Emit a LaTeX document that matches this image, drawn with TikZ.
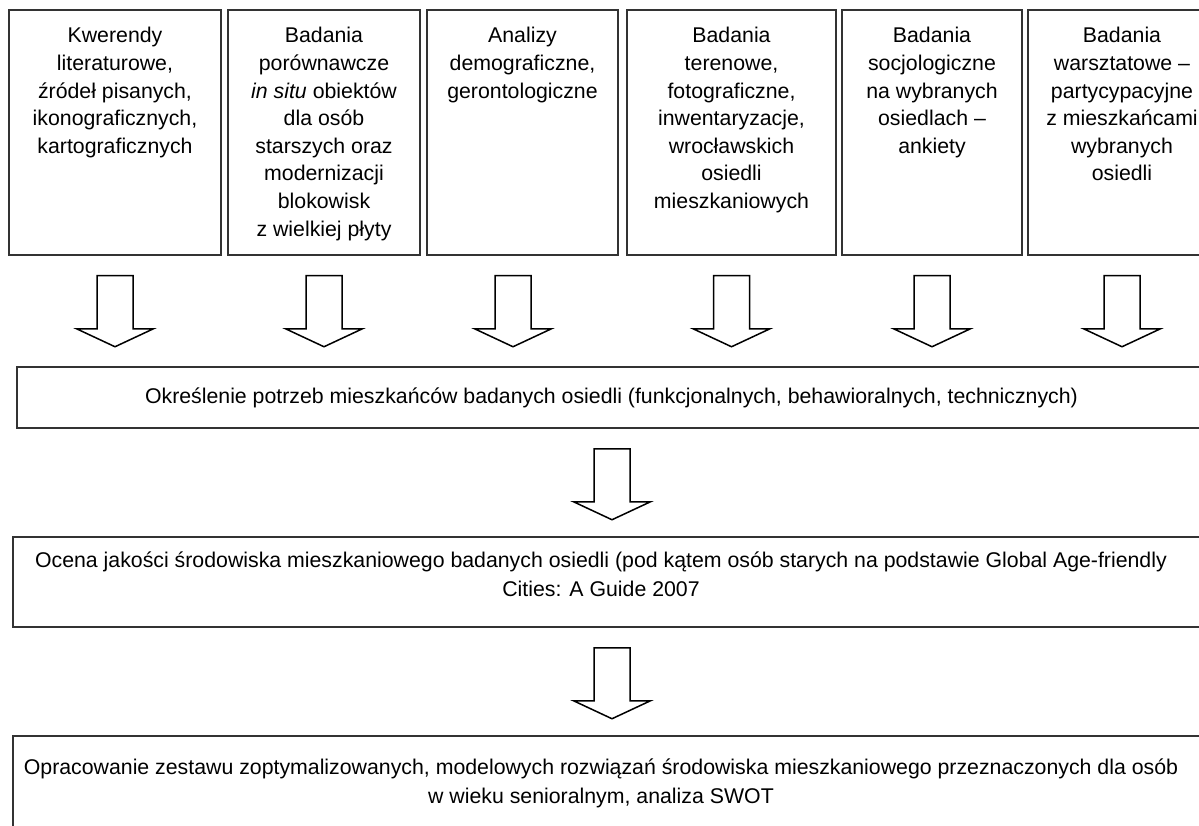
\documentclass[tikz,border=0pt]{standalone}
\usepackage{fontspec}
\setmainfont{Liberation Sans}
\usetikzlibrary{positioning}

\tikzset{
  ramka/.style={draw=black!80, line width=1.5pt, inner sep=0pt},
  opis/.style={align=center, inner sep=0pt, font=\fontsize{21.3}{27.6}\selectfont},
  opisszeroki/.style={align=center, inner sep=0pt, font=\fontsize{21.3}{29}\selectfont},
  strz/.style={draw=black, line width=1.5pt, fill=white, line join=miter}
}
% hollow block arrow hanging 20pt below a point
\newcommand{\strzalka}[1]{%
  \draw[strz] (#1) ++(-18,20) -- ++(0,53) -- ++(-20.5,0) -- ++(38.5,18)
    -- ++(38.5,-18) -- ++(-20.5,0) -- ++(0,-53) -- cycle;}

\begin{document}
\begin{tikzpicture}[x=1pt, y=-1pt]
\useasboundingbox (0,0) rectangle (1199,826);
\clip (0,0) rectangle (1199,826);

% top row of methods
\def\y{132.5}
\node[ramka, minimum width=212pt, minimum height=245pt] (k1) at (115, \y) {};
\node[ramka, minimum width=192pt, minimum height=245pt] (k2) at (324, \y) {};
\node[ramka, minimum width=191pt, minimum height=245pt] (k3) at (522.5, \y) {};
\node[ramka, minimum width=209pt, minimum height=245pt] (k4) at (731.5, \y) {};
\node[ramka, minimum width=180pt, minimum height=245pt] (k5) at (932, \y) {};
\node[ramka, minimum width=188pt, minimum height=245pt] (k6) at (1122, \y) {};

\node[opis, below=18pt of k1.north] (t1) {Kwerendy\\literaturowe,\\źródeł pisanych,\\ikonograficznych,\\kartograficznych};
\node[opis, below=18pt of k2.north] (t2) {Badania\\porównawcze\\\textit{in situ} obiektów\\dla osób\\starszych oraz\\modernizacji\\blokowisk\\z wielkiej płyty};
\node[opis, below=18pt of k3.north] (t3) {Analizy\\demograficzne,\\gerontologiczne};
\node[opis, below=18pt of k4.north] (t4) {Badania\\terenowe,\\fotograficzne,\\inwentaryzacje,\\wrocławskich\\osiedli\\mieszkaniowych};
\node[opis, below=18pt of k5.north] (t5) {Badania\\socjologiczne\\na wybranych\\osiedlach –\\ankiety};
\node[opis, below=18pt of k6.north] (t6) {Badania\\warsztatowe –\\partycypacyjne\\z mieszkańcami\\wybranych\\osiedli};

% wide boxes
\node[ramka, opisszeroki, minimum width=1189pt, minimum height=61pt] (potrz) at (611.5, 397.5) {Określenie potrzeb mieszkańców badanych osiedli (funkcjonalnych, behawioralnych, technicznych)};
\node[ramka, minimum width=1197pt, minimum height=90pt] (ocena) at (611.5, 582) {};
\node[ramka, minimum width=1197pt, minimum height=96pt] (oprac) at (611.5, 784) {};

\node[opisszeroki] (ocenaT) at (601, 574) {Ocena jakości środowiska mieszkaniowego badanych osiedli (pod kątem osób starych na podstawie Global Age-friendly\\Cities: A Guide 2007};
\node[opisszeroki] (opracT) at (601, 783) {Opracowanie zestawu zoptymalizowanych, modelowych rozwiązań środowiska mieszkaniowego przeznaczonych dla osób\\w wieku senioralnym, analiza SWOT};

% arrows
\coordinate (s3) at ([xshift=-9.5pt]k3.south);
\coordinate (s7) at (612,0 |- potrz.south);
\coordinate (s8) at (612,0 |- ocena.south);

\strzalka{k1.south}
\strzalka{k2.south}
\strzalka{s3}
\strzalka{k4.south}
\strzalka{k5.south}
\strzalka{k6.south}
\strzalka{s7}
\strzalka{s8}

\end{tikzpicture}
\end{document}
